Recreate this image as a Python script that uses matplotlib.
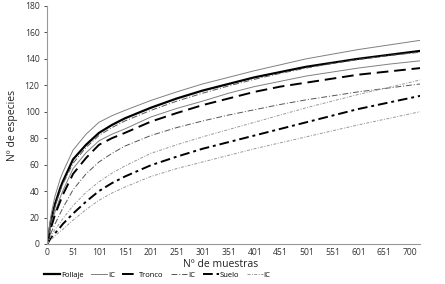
import matplotlib.pyplot as plt

plt.rcParams['font.family'] = ['Open Sans', 'DejaVu Sans']

# muestras (eje x)
x = [0, 5, 8, 15, 25, 30, 50, 75, 100, 125, 150, 200, 250, 300, 350, 400, 450, 500, 550, 600, 660, 720]

follaje = [0, 12, 19, 30, 42, 47, 64, 75, 84, 90, 95, 103, 110, 116, 121, 126, 130, 134, 137, 140, 143, 146]
follaje_ic_sup = [0, 15, 23, 36, 49, 54, 71, 83, 92, 97, 101, 108.5, 115, 121, 126, 131, 135.5, 140, 143.5, 147, 150.5, 154]
follaje_ic_inf = [0, 9, 15, 24, 35, 40, 57, 69, 78, 83, 87, 96, 102.5, 108, 114, 119, 123, 127, 130, 133, 136, 138.5]

tronco = [0, 8, 13, 22, 32, 37, 53, 65, 75, 80, 84, 92.5, 99, 105, 110, 115, 119, 122, 125, 128, 130.5, 133]
tronco_ic_sup = [0, 11, 17, 28, 40, 45, 61, 73, 82, 88, 93, 101, 108, 114, 119.5, 124.5, 129, 133, 136.5, 139.5, 142.5, 145]
tronco_ic_inf = [0, 5, 9, 15, 23, 27, 41, 53, 62, 68.5, 74, 82, 88, 93, 97.5, 101.5, 105.5, 109, 112, 115, 118, 121]

suelo = [0, 3, 5, 8, 12.5, 15, 23, 32, 40, 46, 51, 59.5, 66, 72, 77, 82, 87, 92, 97, 102, 107, 112]
suelo_ic_sup = [0, 4, 6.5, 11, 16, 19, 29, 39, 47, 53.5, 59, 68.5, 75, 81, 86.5, 92, 97.5, 103, 108, 113, 118.5, 124]
suelo_ic_inf = [0, 2, 3.5, 6, 9.5, 11, 18, 26, 33, 38.5, 43, 51, 57, 62, 67, 72, 76.5, 81, 85.5, 90, 95, 100]

xticks = [0, 51, 101, 151, 201, 251, 301, 351, 401, 451, 501, 551, 601, 651, 700]

fig = plt.figure(figsize=(4.45, 2.84), dpi=100)
ax = fig.add_axes([0.106, 0.141, 0.838, 0.838])

ax.plot(x, follaje, color='black', lw=1.6, label='Follaje')
ax.plot(x, follaje_ic_sup, color='#808080', lw=0.7, label='IC')
ax.plot(x, follaje_ic_inf, color='#808080', lw=0.7)

ax.plot(x, tronco, color='black', lw=1.4, dashes=(6, 3), label='Tronco')
ax.plot(x, tronco_ic_sup, color='#555555', lw=0.7, dashes=(6, 2, 1, 2), label='IC')
ax.plot(x, tronco_ic_inf, color='#555555', lw=0.7, dashes=(6, 2, 1, 2))

ax.plot(x, suelo, color='black', lw=1.4, dashes=(5, 2, 1.5, 2), label='Suelo')
ax.plot(x, suelo_ic_sup, color='#999999', lw=0.7, dashes=(3, 1.5, 1, 1.5), label='IC')
ax.plot(x, suelo_ic_inf, color='#999999', lw=0.7, dashes=(3, 1.5, 1, 1.5))

ax.set_xlim(0, 720)
ax.set_ylim(0, 180)
ax.set_xticks(xticks)
ax.set_xticklabels([str(t) for t in xticks])
ax.set_yticks(range(0, 181, 20))
ax.tick_params(axis='both', labelsize=6.2, colors='#333333', length=2, width=0.6)
ax.tick_params(axis='x', length=0, pad=3)
for s in ['top', 'right']:
    ax.spines[s].set_visible(False)
for s in ['left', 'bottom']:
    ax.spines[s].set_color('#999999')
    ax.spines[s].set_linewidth(0.8)

ax.set_xlabel('Nº de muestras', fontsize=7.5, color='#222222', labelpad=1)
ax.xaxis.set_label_coords(0.466, -0.065)
ax.set_ylabel('Nº de especies', fontsize=7.5, color='#222222', labelpad=5)

fig.legend(loc='center', bbox_to_anchor=(0.353, 0.032), ncol=6, frameon=False,
           fontsize=5.5, handlelength=2.1, handletextpad=0.1, columnspacing=1.0)

fig.savefig('out.png', dpi=100)
